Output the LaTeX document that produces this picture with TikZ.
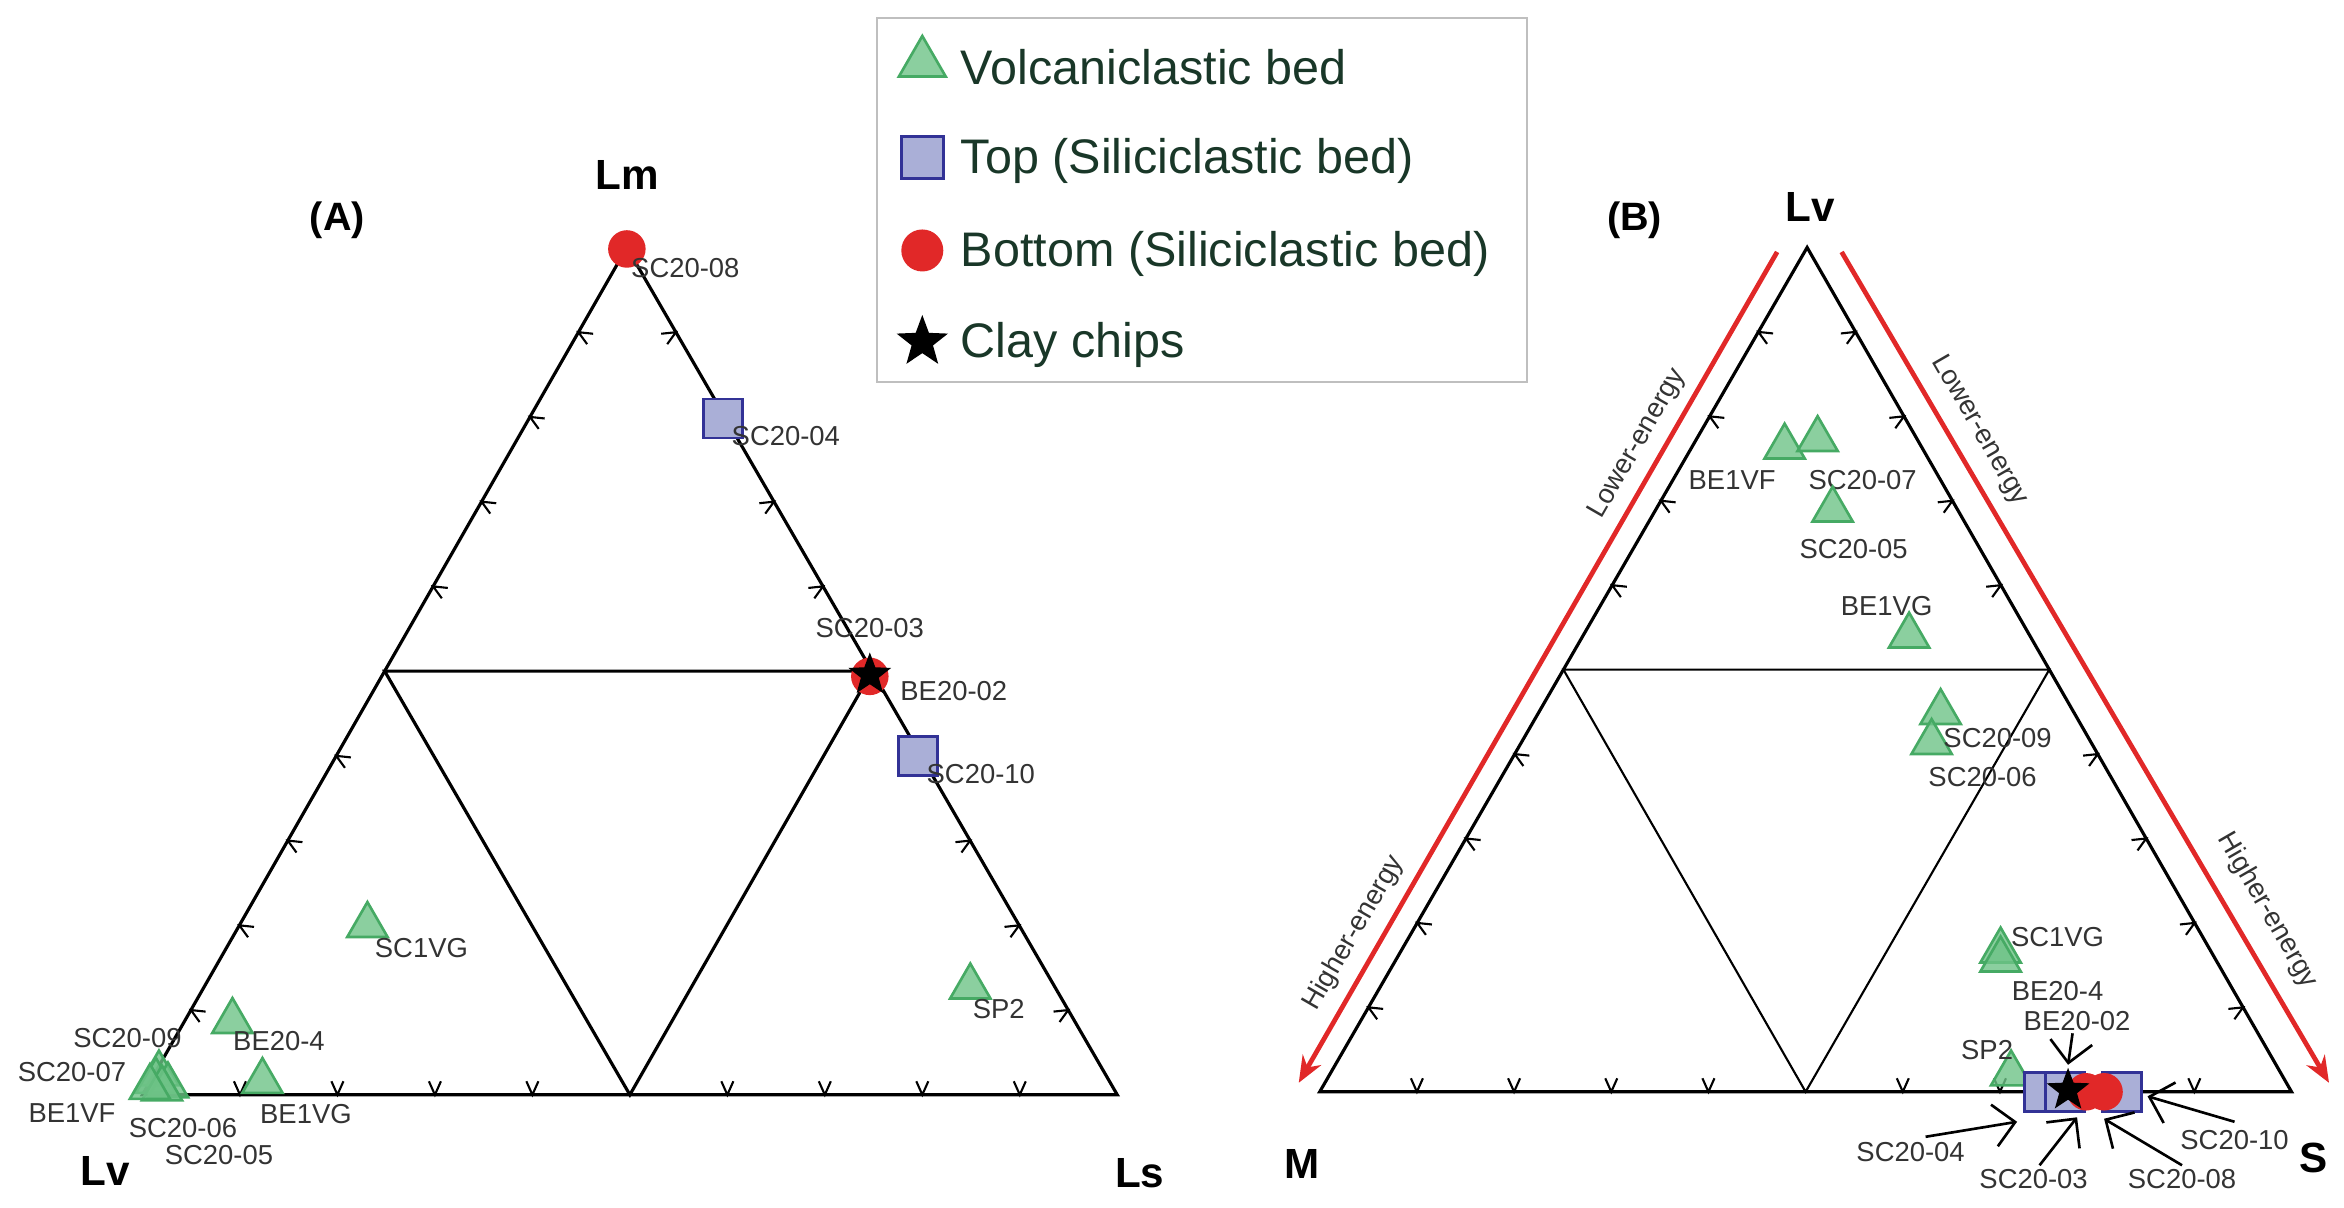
\documentclass[tikz,border=0pt]{standalone}
\usepackage{fontspec}
\setmainfont{Liberation Sans}
\usetikzlibrary{shapes.geometric,arrows.meta,calc}
\definecolor{vgreen}{RGB}{110,195,135}
\definecolor{vgreenD}{RGB}{70,170,100}
\definecolor{tblue}{RGB}{170,175,215}
\definecolor{tblueD}{RGB}{50,50,150}
\definecolor{bred}{RGB}{225,40,40}
\definecolor{legtxt}{RGB}{25,55,40}
\tikzset{
  tri/.style={regular polygon, regular polygon sides=3, minimum size=0.31cm, inner sep=0pt, fill=vgreen, fill opacity=.8, draw=vgreenD, line width=0.5pt},
  sq/.style={rectangle, minimum size=0.26cm, inner sep=0pt, fill=tblue, draw=tblueD, line width=0.5pt},
  rdot/.style={circle, minimum size=0.25cm, inner sep=0pt, fill=bred},
  clay/.style={star, star points=5, star point ratio=2.4, minimum size=0.3cm, inner sep=0pt, fill=black},
  lbl/.style={font=\fontsize{5.2}{6}\selectfont, text=black!80, inner sep=0pt},
  apex/.style={font=\fontsize{8}{9}\selectfont\bfseries, inner sep=0pt},
  leg/.style={font=\fontsize{9.2}{11}\selectfont, text=legtxt, anchor=west, inner sep=0pt},
  edge/.style={line width=0.6pt},
  energy/.style={bred, line width=0.9pt, -{Stealth[length=5pt,width=4pt]}},
  elbl/.style={font=\fontsize{5.2}{6}\selectfont, text=black!80, inner sep=0pt},
  tk/.pic={\draw[line width=0.4pt] (-4,-9) -- (0,0) -- (4,-9);}
}
\newcommand{\tickedge}[3]{% from, to, rotation
  \foreach \t in {0.1,0.2,0.3,0.4,0.6,0.7,0.8,0.9}
    \pic[rotate=#3] at ($(#1)!\t!(#2)$) {tk};
}
\begin{document}
\begin{tikzpicture}[x=0.01cm,y=-0.01cm]
\useasboundingbox (0,0) rectangle (1563,805);

% legend
\draw[black!25, line width=0.4pt] (585,12) rectangle (1018,255);
\node[tri, minimum size=0.36cm] (lt) at (615,42) {};
\node[leg] (ltx) at (640,45) {Volcaniclastic bed};
\node[sq, minimum size=0.28cm] (ls) at (615,105) {};
\node[leg] (lsx) at (640,107) {Top (Siliciclastic bed)};
\node[rdot, minimum size=0.28cm] (lc) at (615,167) {};
\node[leg] (lcx) at (640,169) {Bottom (Siliciclastic bed)};
\node[clay, minimum size=0.36cm] (lk) at (615,228) {};
\node[leg] (lkx) at (640,230) {Clay chips};

% diagram A
\coordinate (Am) at (418,165);
\coordinate (Av) at (95,730);
\coordinate (As) at (745,730);
\draw[edge] (Am) -- (Av) -- (As) -- cycle;
\coordinate (Al) at ($(Am)!0.5!(Av)$);
\coordinate (Ar) at ($(Am)!0.5!(As)$);
\coordinate (Ab) at ($(Av)!0.5!(As)$);
\draw[edge] (Al) -- (Ar) -- (Ab) -- cycle;
\tickedge{Av}{As}{0}
\tickedge{Av}{Am}{-120}
\tickedge{Am}{As}{120}
\node[apex] (lmA) at (418,117) {Lm};
\node[apex] (lvA) at (70,781) {Lv};
\node[apex] (lsA) at (760,782) {Ls};
\node[apex, font=\fontsize{7.5}{9}\selectfont\bfseries] (tA) at (225,147) {(A)};

\node[rdot] (a08) at (418,166) {};
\node[lbl] at (457,179) {SC20-08};
\node[sq] (a04) at (482,279) {};
\node[lbl] at (524,291) {SC20-04};
\node[rdot] (a03c) at (580,451) {};
\node[clay] (a03) at (580,450) {};
\node[lbl] at (580,419) {SC20-03};
\node[lbl] at (636,461) {BE20-02};
\node[sq] (a10) at (612,504) {};
\node[lbl] at (654,516) {SC20-10};
\node[tri] (a1vg) at (245,617) {};
\node[lbl] at (281,632) {SC1VG};
\node[tri] (asp2) at (647,658) {};
\node[lbl] at (666,673) {SP2};
\node[tri] (a204) at (155,681) {};
\node[lbl] at (186,694) {BE20-4};
\node[tri] (abvg) at (175,721) {};
\node[lbl] at (204,743) {BE1VG};
\node[tri] (a09) at (106,716) {};
\node[tri] (a07) at (104,721) {};
\node[tri] (a05) at (112,724) {};
\node[tri] (a06) at (108,726) {};
\node[tri] (abvf) at (100,725) {};
\node[lbl] at (85,692) {SC20-09};
\node[lbl] at (48,715) {SC20-07};
\node[lbl] at (48,742) {BE1VF};
\node[lbl] at (122,752) {SC20-06};
\node[lbl] at (146,770) {SC20-05};

% diagram B
\coordinate (Bv) at (1205,165);
\coordinate (Bm) at (880,728);
\coordinate (Bs) at (1528,728);
\draw[edge] (Bv) -- (Bm) -- (Bs) -- cycle;
\coordinate (Bl) at ($(Bv)!0.5!(Bm)$);
\coordinate (Br) at ($(Bv)!0.5!(Bs)$);
\coordinate (Bb) at ($(Bm)!0.5!(Bs)$);
\draw[line width=0.4pt] (Bl) -- (Br) -- (Bb) -- cycle;
\tickedge{Bm}{Bs}{0}
\tickedge{Bm}{Bv}{-120}
\tickedge{Bv}{Bs}{120}
\node[apex] (lvB) at (1207,138) {Lv};
\node[apex] (lmB) at (868,776) {M};
\node[apex] (lsB) at (1543,772) {S};
\node[apex, font=\fontsize{7.5}{9}\selectfont\bfseries] (tB) at (1090,147) {(B)};

% energy arrows
\coordinate (eL1) at (1185,168);
\coordinate (eL2) at (866,722);
\coordinate (eR1) at (1228,168);
\coordinate (eR2) at (1553,722);
\draw[energy] (eL1) -- (eL2);
\draw[energy] (eR1) -- (eR2);
\node[elbl, rotate=60] at (1092,296) {Lower-energy};
\node[elbl, rotate=60] at (903,622) {Higher-energy};
\node[elbl, rotate=-60] at (1320,287) {Lower-energy};
\node[elbl, rotate=-60] at (1512,607) {Higher-energy};

\node[tri] (bbvf) at (1190,298) {};
\node[tri] (b07) at (1212,293) {};
\node[lbl] at (1155,320) {BE1VF};
\node[lbl] at (1242,320) {SC20-07};
\node[tri] (b05) at (1222,340) {};
\node[lbl] at (1236,366) {SC20-05};
\node[lbl] at (1258,404) {BE1VG};
\node[tri] (bbvg) at (1273,424) {};
\node[tri] (b09) at (1294,475) {};
\node[tri] (b06) at (1288,495) {};
\node[lbl] at (1332,492) {SC20-09};
\node[lbl] at (1322,518) {SC20-06};
\node[tri] (b1vg) at (1334,634) {};
\node[tri] (b204) at (1334,640) {};
\node[lbl] at (1372,625) {SC1VG};
\node[lbl] at (1372,661) {BE20-4};
\node[tri] (bsp2) at (1341,716) {};
\node[lbl] at (1325,700) {SP2};
\node[sq] (b04) at (1363,728) {};
\node[sq] (b10) at (1415,728) {};
\node[sq] (b04b) at (1377,728) {};
\node[rdot] (b03c) at (1391,728) {};
\node[rdot] (b08) at (1403,728) {};
\node[clay] (b03) at (1379,727) {};
\node[lbl] (l02) at (1385,681) {BE20-02};
\node[lbl] (l04) at (1274,768) {SC20-04};
\node[lbl] (l03) at (1356,786) {SC20-03};
\node[lbl] (l08) at (1455,786) {SC20-08};
\node[lbl] (l10) at (1490,760) {SC20-10};
\coordinate (p02) at (1379,710);
\coordinate (p04) at (1345,748);
\coordinate (p03) at (1385,745);
\coordinate (p08) at (1403,746);
\coordinate (p10) at (1432,731);
\begin{scope}[-{Straight Barb[length=4pt]}, line width=0.5pt]
\draw (1382,689) -- (p02);
\draw (1284,758) -- (p04);
\draw (1360,777) -- (p03);
\draw (1455,777) -- (p08);
\draw (1490,748) -- (p10);
\end{scope}
\end{tikzpicture}
\end{document}
